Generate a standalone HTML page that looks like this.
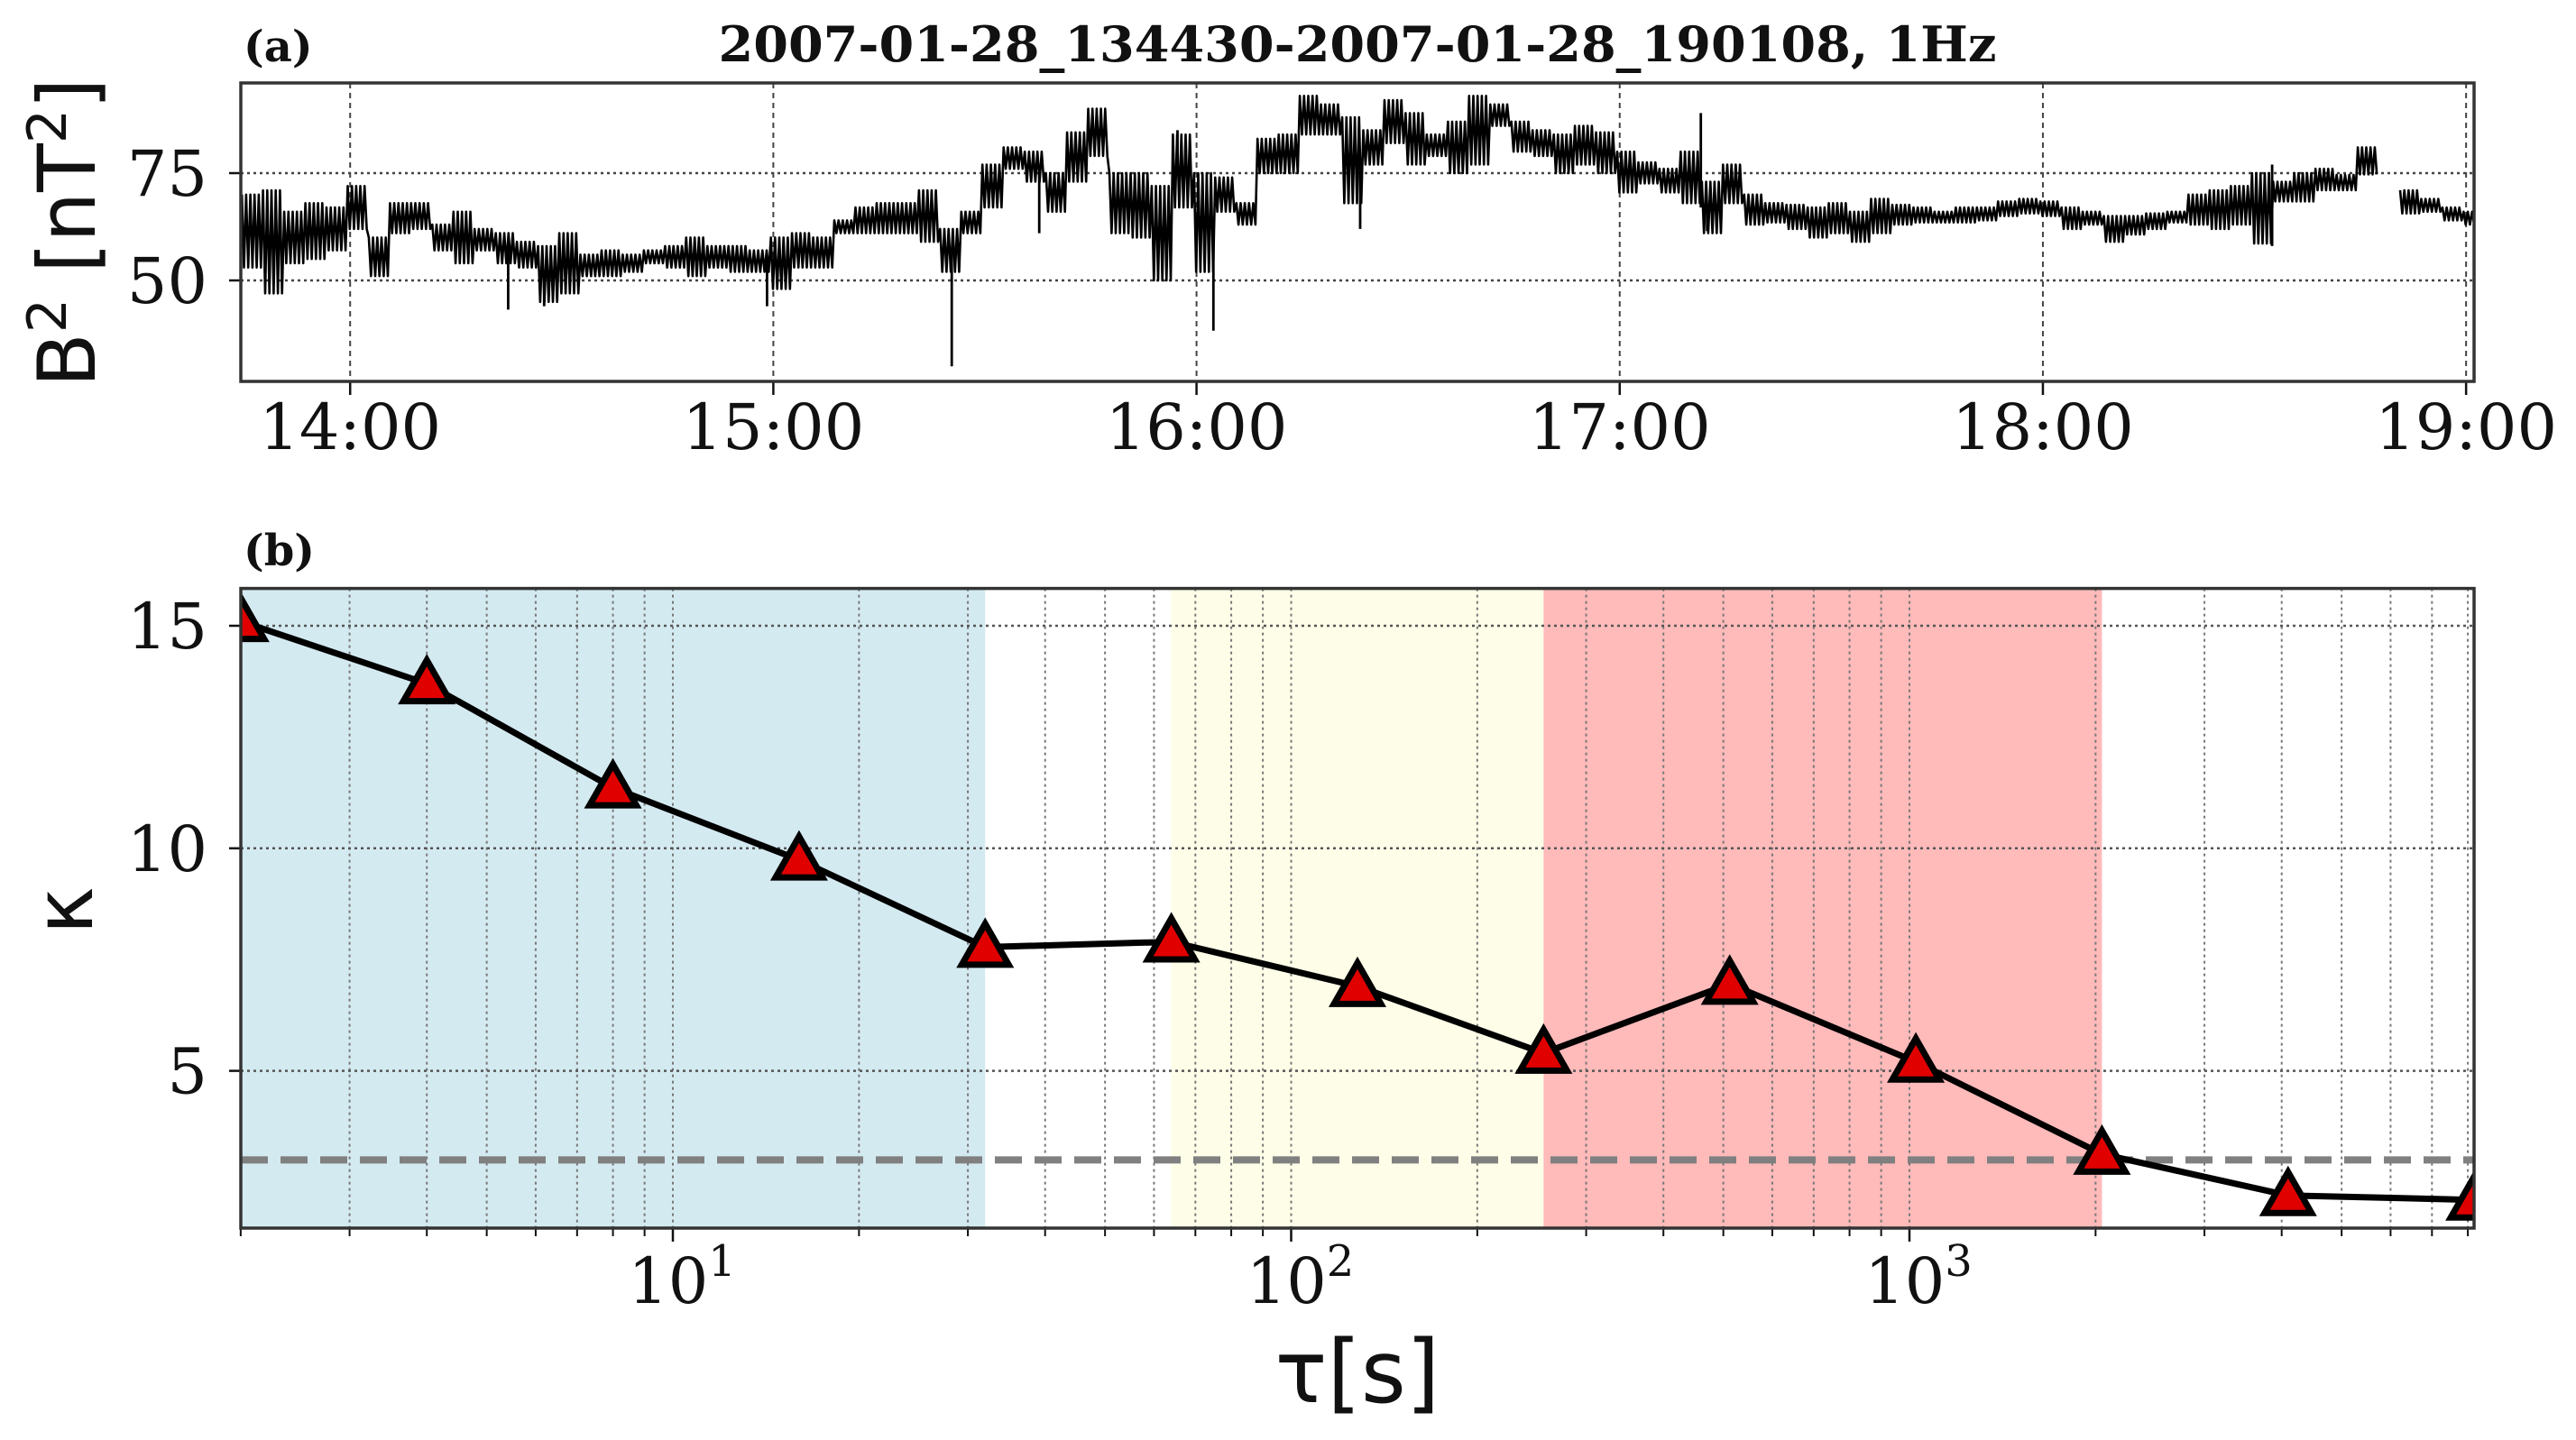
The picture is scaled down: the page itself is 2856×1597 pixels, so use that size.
<!DOCTYPE html>
<html><head><meta charset="utf-8"><style>
html,body{margin:0;padding:0;background:#fff;}
svg{display:block;}
</style></head><body>
<svg id="fig" width="2856" height="1597" viewBox="0 0 2856 1597" xmlns="http://www.w3.org/2000/svg">
<defs>
<clipPath id="clipA"><rect x="267" y="92" width="2476" height="331"/></clipPath>
<clipPath id="clipB"><rect x="267" y="652.6" width="2476" height="709.4"/></clipPath>
</defs>
<rect width="2856" height="1597" fill="#fff"/>
<g id="panelA"></g>
<g id="panelB"></g>
</svg>
<script>
// ---------- Panel (a) data: B^2 time series, 3-minute bands from 13:44:30 ----------
const aHourLabels = ["14:00","15:00","16:00","17:00","18:00","19:00"];
const aHourMinutes = [15.5,75.5,135.5,195.5,255.5,315.5];
const aYTicks = [50,75];
const aHi = [70,71,66,68,67,72,60,68,68,63,66,62,61,59,58,61,56,57,56,57,58,60,58,58,57,60,61,60,64,67,68,68,71,62,66,77,81,80,75,84.5,90,75,75,72,84,75,74,68,83,84,93,91,88,
85,92,89,84,87,93,91,87,85,84,86,84.5,80,77.5,76,80,73,77,70,68,67.6,67,68,66,69,67.6,67,66,67,67,68.4,69,68.4,67,66,65,65,65.6,66,70,71,72,75,73,75,76,74.6,81,
null,71,69,67,66];
const aLo = [53,47,54,55,57,62,51,61,62,57,54,57,54,53,45,47,51,51,52,54,53,51,53,52,52,48,53,53,61,61,61,61,59,52,61,67,76,73,66,73,79,61,60,50,67,52,66,63,75,75,84,84,68,
77,82,77,79,75,77,86,80,79,75,77,75,70.5,72.6,70.5,68,61,68,63,63.5,62,60,61,59,61,63,63.5,63.5,63.5,64,65,65.6,65,62,63,59,60.7,62,63.5,63,62,63,58.6,68.4,68.4,71,71,74.7,
null,65.6,66,64,63];
const aSpikeT = [37.9,43,74.6,100.8,113.2,132.8,137.9,158.7,207,207.9,288,288];
const aSpikeV = [43.2,44,44,30,61,85,38.3,62,89,61.5,58,77];
const aSegMinutes = 3;

// ---------- Panel (b) data: kurtosis vs tau ----------
const bTau = [2,4,8,16,32,64,128,256,512,1024,2048,4096,8192];
const bKappa = [15.1,13.7,11.36,9.74,7.78,7.9,6.9,5.4,6.95,5.2,3.13,2.2,2.1];
const bYTicks = [5,10,15];
const bXDecades = [1,2,3];
const bThreshold = 3.0;
const bSpanStart = [2,64,256];
const bSpanEnd = [32,256,2048];
const bSpanColor = ["#d4eaf1","#fefee8","#ffbaba"];

const NS="http://www.w3.org/2000/svg";
function mk(tag, attrs, parent){const e=document.createElementNS(NS,tag);for(const k in attrs)e.setAttribute(k,attrs[k]);parent.appendChild(e);return e;}

const AL=267, AR=2743, AT=92, AB=423;
const totalMin=316.633;
function xA(t){return AL + t*(AR-AL)/totalMin;}
function yA(v){return 192 - (v-75)*119/25;}
const BT=652.6, BB=1362;
function xB(tau){return 746 + (Math.log10(tau)-1)*685.5;}
function yB(k){return 1187.6 - (k-5)*49.36;}

const gA=document.getElementById('panelA');
const gB=document.getElementById('panelB');
const serif='"DejaVu Serif","Liberation Serif",serif';
const sans='"DejaVu Sans","Liberation Sans",sans-serif';

// ===== Panel A =====
let t;
t=mk('text',{x:270,y:68,'font-family':serif,'font-weight':'bold','font-size':48,fill:'#111'},gA);
t.textContent='(a)';


t=mk('text',{x:1505,y:68,'text-anchor':'middle','font-family':serif,'font-weight':'bold','font-size':54,fill:'#111',textLength:1417,lengthAdjust:'spacingAndGlyphs','xml:space':'preserve'},gA);
t.textContent='2007-01-28_134430-2007-01-28_190108,  1Hz';



aHourMinutes.forEach((m,i)=>{
  const x=xA(m);
  if(x>AR+2) return;
  const l=mk('line',{x1:x,x2:x,y1:AT,y2:AB,stroke:'#444','stroke-width':2,'stroke-dasharray':'6,5'},gA);
  
  
  const tk=mk('line',{x1:x,x2:x,y1:AB,y2:AB+15,stroke:'#111','stroke-width':2.5},gA);
  
  
  const lb=mk('text',{x:x,y:498,'text-anchor':'middle','font-family':serif,'font-size':70,fill:'#111'},gA);
  lb.textContent=aHourLabels[i];
  
  
});
aYTicks.forEach(v=>{
  const y=yA(v);
  const l=mk('line',{x1:AL,x2:AR,y1:y,y2:y,stroke:'#444','stroke-width':2.5,'stroke-dasharray':'3,4'},gA);
  
  
  const tk=mk('line',{x1:AL-13,x2:AL,y1:y,y2:y,stroke:'#111','stroke-width':2.5},gA);
  
  
  const lb=mk('text',{x:230,y:y+25,'text-anchor':'end','font-family':serif,'font-size':70,fill:'#111'},gA);
  lb.textContent=String(v);
  
  
});

const gs=mk('g',{'clip-path':'url(#clipA)'},gA);


let d='', pen=false;
const nSub=10;
for(let i=0;i<aHi.length;i++){
  if(aHi[i]===null){pen=false;continue;}
  const t0=i*aSegMinutes;
  for(let k=0;k<nSub;k++){
    const tm=t0+(k+0.5)*aSegMinutes/nSub;
    const v=(k%2===0)?aHi[i]:aLo[i];
    d+=(pen?'L':'M')+xA(tm).toFixed(1)+','+yA(v).toFixed(1)+' ';
    pen=true;
  }
}
const sp=mk('path',{d:d,fill:'none',stroke:'#000','stroke-width':2.6,'stroke-linejoin':'round'},gs);


let ds='';
aSpikeT.forEach((tm,i)=>{
  const seg=Math.min(aHi.length-1,Math.floor(tm/aSegMinutes));
  const base=aHi[seg]===null?aSpikeV[i]:(aHi[seg]+aLo[seg])/2;
  ds+='M'+xA(tm).toFixed(1)+','+yA(base).toFixed(1)+' L'+xA(tm).toFixed(1)+','+yA(aSpikeV[i]).toFixed(1)+' ';
});
const sk=mk('path',{d:ds,fill:'none',stroke:'#000','stroke-width':2.8},gs);



const fa=mk('rect',{x:AL,y:AT,width:AR-AL,height:AB-AT,fill:'none',stroke:'#333','stroke-width':3.5},gA);



t=mk('text',{x:0,y:0,'text-anchor':'middle','font-family':sans,'font-size':88,fill:'#111',transform:'translate(105,258) rotate(-90)'},gA);
t.innerHTML='B<tspan dy="-32" font-size="60">2</tspan><tspan dy="32"> [nT</tspan><tspan dy="-32" font-size="60">2</tspan><tspan dy="32">]</tspan>';



// ===== Panel B =====
t=mk('text',{x:270,y:627,'font-family':serif,'font-weight':'bold','font-size':48,fill:'#111'},gB);
t.textContent='(b)';



bSpanStart.forEach((s,i)=>{
  const r=mk('rect',{x:xB(s),y:BT,width:xB(bSpanEnd[i])-xB(s),height:BB-BT,fill:bSpanColor[i]},gB);
  
  
});
const xmin=2, xmax=8192;
for(let dd=0; dd<=3; dd++){
  for(let m=1;m<=9;m++){
    const v=m*Math.pow(10,dd);
    if(v<xmin-1e-9||v>xmax) continue;
    const x=xB(v);
    const l=mk('line',{x1:x,x2:x,y1:BT,y2:BB,stroke:'#777','stroke-width':2,'stroke-dasharray':'3,4'},gB);
    
    
    const major=(m===1);
    const tk=mk('line',{x1:x,x2:x,y1:BB,y2:BB+(major?15:9),stroke:'#111','stroke-width':major?2.5:2},gB);
    
    
  }
}
bXDecades.forEach(e=>{
  const x=xB(Math.pow(10,e));
  const lb=mk('text',{x:x+10,y:1445,'text-anchor':'middle','font-family':serif,'font-size':70,fill:'#111'},gB);
  lb.innerHTML='10<tspan dy="-30" font-size="48">'+e+'</tspan>';
  
  
});
bYTicks.forEach(v=>{
  const y=yB(v);
  const l=mk('line',{x1:AL,x2:AR,y1:y,y2:y,stroke:'#555','stroke-width':2.5,'stroke-dasharray':'3,4'},gB);
  
  
  const tk=mk('line',{x1:AL-13,x2:AL,y1:y,y2:y,stroke:'#111','stroke-width':2.5},gB);
  
  
  const lb=mk('text',{x:230,y:y+25,'text-anchor':'end','font-family':serif,'font-size':70,fill:'#111'},gB);
  lb.textContent=String(v);
  
  
});
const th=mk('line',{x1:AL,x2:AR,y1:yB(bThreshold),y2:yB(bThreshold),stroke:'#808080','stroke-width':8,'stroke-dasharray':'30,14'},gB);



const gk=mk('g',{'clip-path':'url(#clipB)'},gB);


const kp=mk('polyline',{points:bTau.map((v,i)=>xB(v).toFixed(1)+','+yB(bKappa[i]).toFixed(1)).join(' '),fill:'none',stroke:'#000','stroke-width':7},gk);


bTau.forEach((v,i)=>{
  const x=xB(v), y=yB(bKappa[i]);
  const s=26;
  const tri=mk('polygon',{points:`${x},${y-s} ${x-s},${y+s*0.75} ${x+s},${y+s*0.75}`,fill:'#e00000',stroke:'#000','stroke-width':7,'stroke-linejoin':'miter'},gk);
  
  
});
const fb=mk('rect',{x:AL,y:BT,width:AR-AL,height:BB-BT,fill:'none',stroke:'#333','stroke-width':3.5},gB);



t=mk('text',{x:0,y:0,'text-anchor':'middle','font-family':sans,'font-size':90,fill:'#111',transform:'translate(102,1010) rotate(-90)'},gB);
t.textContent='κ';


t=mk('text',{x:1505,y:1555,'text-anchor':'middle','font-family':sans,'font-size':96,fill:'#111'},gB);
t.textContent='τ[s]';


</script>
</body></html>
